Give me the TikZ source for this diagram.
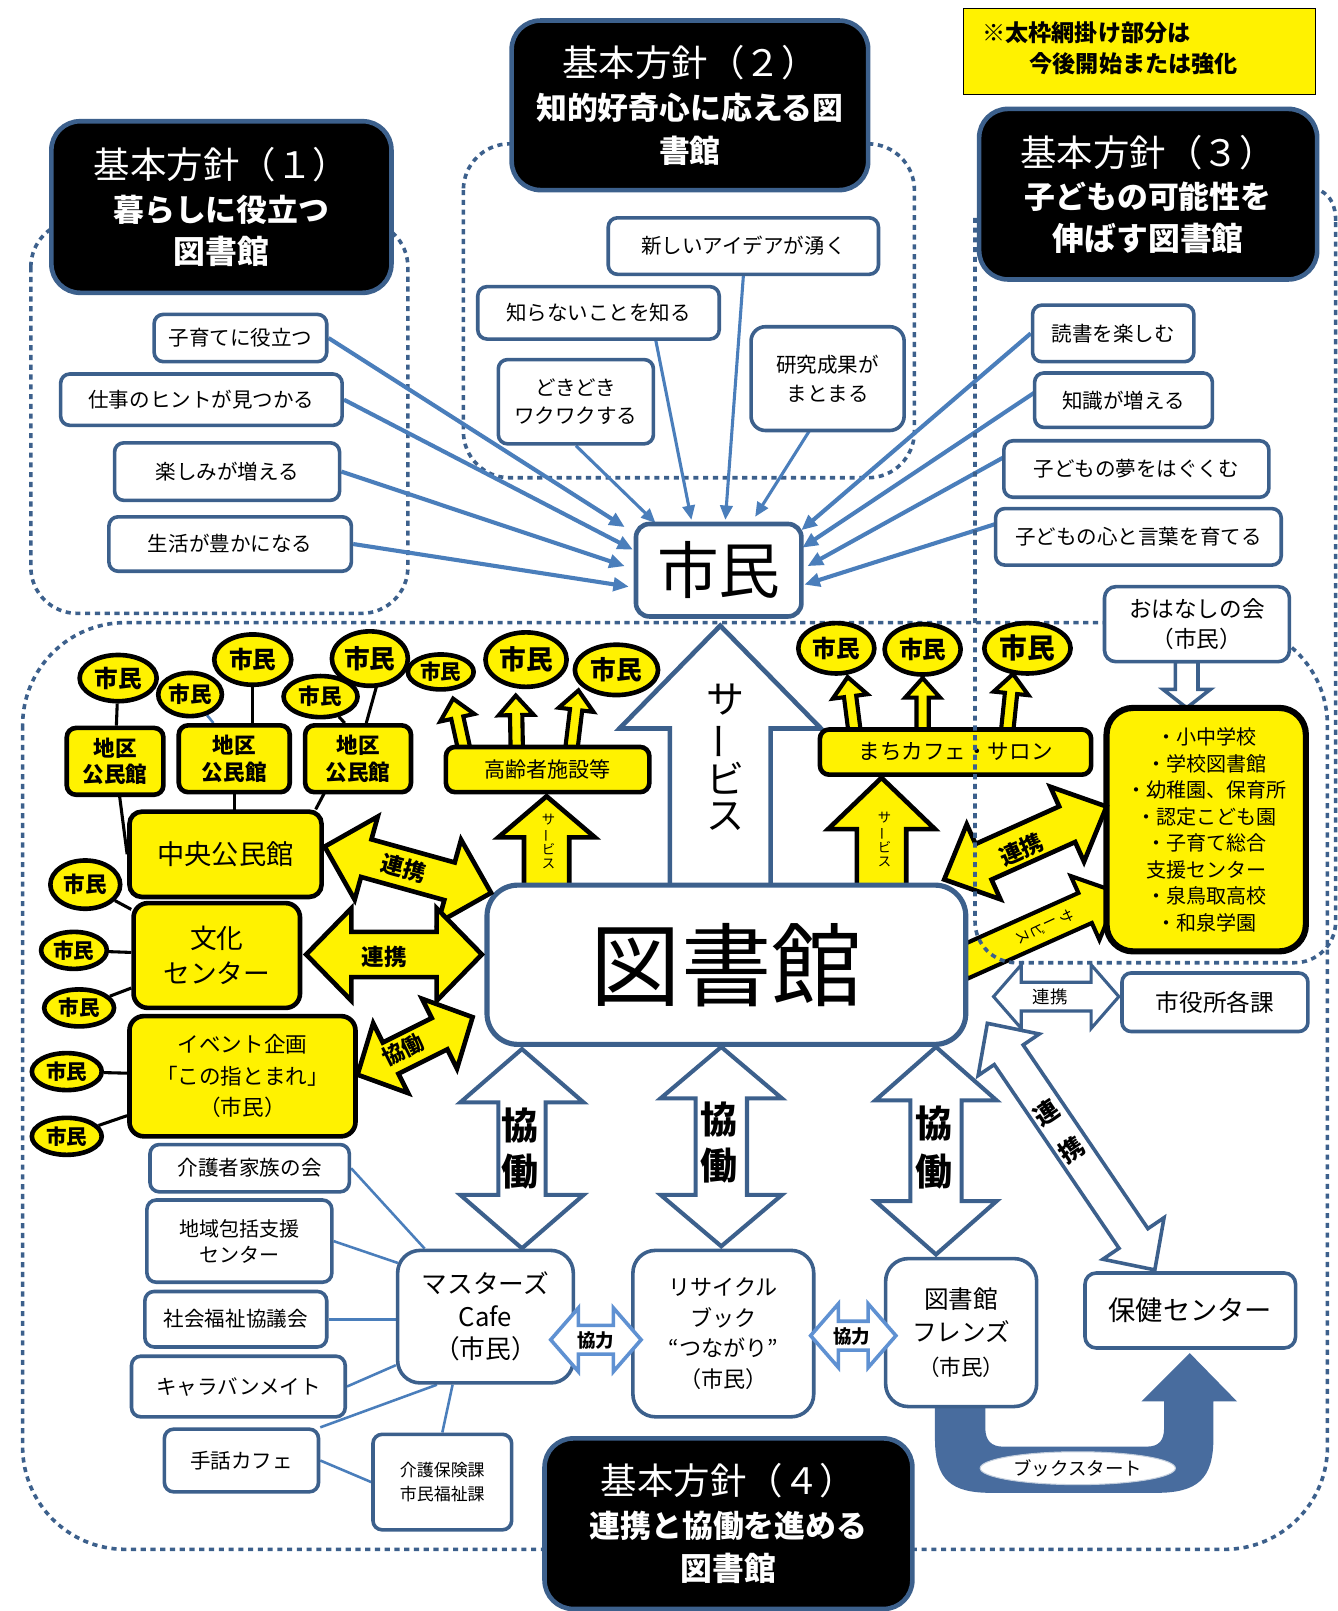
\documentclass[tikz,border=0pt]{standalone}
\usepackage{fontspec}
\setmainfont{Noto Sans CJK JP}
\usetikzlibrary{arrows.meta,shapes.geometric,calc}
\pgfdeclarelayer{bg0}\pgfdeclarelayer{bg1}\pgfdeclarelayer{top}
\pgfsetlayers{bg0,bg1,main,top}
\definecolor{bdr}{RGB}{60,96,140}
\definecolor{lnk}{RGB}{74,126,187}
\definecolor{lbl}{RGB}{95,145,210}
\definecolor{bookc}{RGB}{72,108,158}
\newcommand\fs[2]{\fontsize{#1}{#2}\selectfont}
\newcommand\vserv{サ\\\rotatebox[origin=c]{90}{ー}\\ビ\\ス}
\makeatletter
\newcommand\blockarrow[7]{%
  \pgfmathanglebetweenpoints{\pgfpointanchor{#2}{center}}{\pgfpointanchor{#3}{center}}%
  \let\ba@ang\pgfmathresult
  \pgfpointdiff{\pgfpointanchor{#2}{center}}{\pgfpointanchor{#3}{center}}%
  \pgfgetlastxy{\ba@dx}{\ba@dy}%
  \pgfmathveclen{\ba@dx}{\ba@dy}%
  \let\ba@len\pgfmathresult
  \begin{scope}[shift={(#2)},rotate=\ba@ang]
  \ifnum#7=2
    \draw[#1] (0,0) -- (#6,#5) -- (#6,#4) -- (\ba@len-#6,#4) -- (\ba@len-#6,#5) -- (\ba@len,0) -- (\ba@len-#6,-#5) -- (\ba@len-#6,-#4) -- (#6,-#4) -- (#6,-#5) -- cycle;
  \else
    \draw[#1] (0,#4) -- (\ba@len-#6,#4) -- (\ba@len-#6,#5) -- (\ba@len,0) -- (\ba@len-#6,-#5) -- (\ba@len-#6,-#4) -- (0,-#4) -- cycle;
  \fi
  \end{scope}}
\makeatother
\begin{document}
\begin{tikzpicture}[x=1pt,y=-1pt,
  pol/.style={draw=bdr,line width=4.5pt,fill=black,rounded corners=28pt,text=white,align=center,inner sep=0pt},
  wb/.style={draw=bdr,line width=3.5pt,fill=white,rounded corners=9pt,align=center,inner sep=0pt,font=\fs{20}{28}},
  yb/.style={draw=black,line width=4.5pt,fill=yellow,rounded corners=9pt,align=center,inner sep=0pt},
  ye/.style={ellipse,draw=black,line width=4.5pt,fill=yellow,inner sep=0pt},
  region/.style={draw=bdr,line width=3.5pt,dash pattern=on 5pt off 4.5pt},
  tolink/.style={draw=lnk,line width=4pt,-{Triangle[length=15pt,width=13pt]}},
  tolinkm/.style={draw=lnk,line width=3pt,-{Triangle[length=14pt,width=12pt]}},
  kl/.style={draw=black,line width=3pt},
  bl/.style={draw=lnk,line width=2.5pt},
  ya/.style={fill=yellow,draw=black,line width=4.5pt,line join=miter},
  wa/.style={fill=white,draw=bdr,line width=4pt,line join=miter},
  lw/.style={fill=white,draw=lbl,line width=3.5pt,line join=miter}
]
\useasboundingbox (0,0) rectangle (1302,1568);
\begin{pgfonlayer}{bg0}
\fill[white] (0,0) rectangle (1302,1568);
\draw[region,rounded corners=45pt] (30,215) rectangle (397,597);
\draw[region,rounded corners=45pt] (451,140) rectangle (890,465);
\draw[region,rounded corners=100pt] (22,606) rectangle (1292,1508);
\fill[bookc] (910,1360) -- (910,1400) .. controls (910,1440) and (925,1453) .. (965,1453) -- (1125,1453) .. controls (1165,1453) and (1181,1440) .. (1181,1400) -- (1181,1364) -- (1204,1364) -- (1158,1317) -- (1111,1364) -- (1133,1364) -- (1133,1390) .. controls (1133,1402) and (1128,1408) .. (1116,1408) -- (976,1408) .. controls (965,1408) and (959,1402) .. (959,1390) -- (959,1360) -- cycle;
\end{pgfonlayer}

% ---------- coordinates
\coordinate (a11) at (608,513); \coordinate (a12) at (616,535);
\coordinate (a13) at (608,551); \coordinate (a14) at (612,571);
\coordinate (a23) at (638,509); \coordinate (a22) at (673,506);
\coordinate (a21) at (706,506); \coordinate (a24) at (735,503);
\coordinate (a31) at (780,516); \coordinate (a32) at (781,533);
\coordinate (a33) at (786,551); \coordinate (a34) at (783,569);
\coordinate (c22) at (638,330); \coordinate (c24) at (788,419);
\coordinate (c32) at (1007,382); \coordinate (c33) at (977,445);
\coordinate (c34) at (969,510);
\coordinate (y1a) at (532,870); \coordinate (y1b) at (532,775);
\coordinate (y2a) at (858,870); \coordinate (y2b) at (858,757);
\coordinate (sva) at (701,870); \coordinate (svb) at (701,609);
\coordinate (y3a) at (316,824); \coordinate (y3b) at (478,869);
\coordinate (y4a) at (298,929); \coordinate (y4b) at (469,929);
\coordinate (y5a) at (348,1046); \coordinate (y5b) at (460,990);
\coordinate (y6a) at (919,856); \coordinate (y6b) at (1077,785);
\coordinate (y7a) at (935,938); \coordinate (y7b) at (1089,869);
\coordinate (s1a) at (452,730); \coordinate (s1b) at (441,680);
\coordinate (s2a) at (503,730); \coordinate (s2b) at (502,677);
\coordinate (s3a) at (556,730); \coordinate (s3b) at (563,672);
\coordinate (s4a) at (832,714); \coordinate (s4b) at (825,659);
\coordinate (s5a) at (898,714); \coordinate (s5b) at (898,660);
\coordinate (s6a) at (980,714); \coordinate (s6b) at (986,656);
\coordinate (w1a) at (967,970); \coordinate (w1b) at (1089,970);
\coordinate (w2a) at (961,996); \coordinate (w2b) at (1124,1236);
\coordinate (w3a) at (508,1021); \coordinate (w3b) at (508,1215);
\coordinate (w4a) at (702,1019); \coordinate (w4b) at (702,1213);
\coordinate (w5a) at (911,1019); \coordinate (w5b) at (911,1221);
\coordinate (w6a) at (536,1304); \coordinate (w6b) at (624,1304);
\coordinate (w7a) at (789,1300); \coordinate (w7b) at (872,1300);
\coordinate (ohd) at (1155,644); \coordinate (ohs) at (1155,689);

% ---------- policy boxes and note
\node[pol,minimum width=331pt,minimum height=167pt,font=\fs{30}{41.5}] (p1) at (215.5,201.5) {{\fs{35.5}{41.5}基本方針（１）}\\{\bfseries 暮らしに役立つ}\\{\bfseries\fs{31}{41.5}図書館}};
\node[pol,minimum width=347pt,minimum height=165pt,font=\fs{30}{41.5}] (p2) at (671.5,102.5) {{\fs{35.5}{41.5}基本方針（２）}\\{\bfseries 知的好奇心に応える図}\\{\bfseries 書館}};
\node[pol,minimum width=329pt,minimum height=166pt,font=\fs{30}{41}] (p3) at (1117.5,189) {{\fs{35.5}{41}基本方針（３）}\\{\bfseries 子どもの可能性を}\\{\bfseries\fs{31}{41}伸ばす図書館}};
\node[pol,minimum width=358pt,minimum height=166pt,font=\fs{30}{42}] (p4) at (709,1483) {{\fs{35.5}{42}基本方針（４）}\\{\bfseries 連携と協働を進める}\\{\bfseries\fs{31}{42}図書館}};
\node[draw=black,line width=1.2pt,fill=yellow,minimum width=342pt,minimum height=84pt,inner sep=0pt] (note) at (1109,50) {};
\node[anchor=west,font=\fs{22.5}{26}\bfseries,inner sep=0pt] (note1) at (956,32) {※太枠網掛け部分は};
\node[anchor=west,font=\fs{22.5}{26}\bfseries,inner sep=0pt] (note2) at (1002,62) {今後開始または強化};

% ---------- top part
\node[wb,line width=4.5pt,rounded corners=13pt,minimum width=161pt,minimum height=90pt,font=\fs{60}{60}] (shimin) at (699.5,555) {市民};
\node[wb,minimum width=168pt,minimum height=46pt] (b11) at (234,329) {子育てに役立つ};
\node[wb,minimum width=274pt,minimum height=50pt] (b12) at (196,389) {仕事のヒントが見つかる};
\node[wb,minimum width=219pt,minimum height=56pt] (b13) at (221,459) {楽しみが増える};
\node[wb,minimum width=236pt,minimum height=53pt] (b14) at (224,529.5) {生活が豊かになる};
\node[wb,minimum width=263pt,minimum height=55pt] (b21) at (723.5,239.5) {新しいアイデアが湧く};
\node[wb,minimum width=235pt,minimum height=51pt] (b22) at (582.5,304.5) {知らないことを知る};
\node[wb,minimum width=151pt,minimum height=82pt] (b23) at (560.5,391) {どきどき\\ワクワクする};
\node[wb,minimum width=149pt,minimum height=101pt,rounded corners=14pt] (b24) at (805.5,368.5) {研究成果が\\まとまる};
\node[wb,minimum width=157pt,minimum height=55pt] (b31) at (1083.5,324.5) {読書を楽しむ};
\node[wb,minimum width=173pt,minimum height=53pt] (b32) at (1093.5,389.5) {知識が増える};
\node[wb,minimum width=258pt,minimum height=55pt] (b33) at (1106,456.5) {子どもの夢をはぐくむ};
\node[wb,minimum width=278pt,minimum height=55pt] (b34) at (1108,522.5) {子どもの心と言葉を育てる};

% ---------- yellow part
\node[ye,minimum width=75pt,minimum height=45pt,font=\fs{23}{23}\bfseries] (e1) at (115,660) {市民};
\node[ye,minimum width=62pt,minimum height=42pt,font=\fs{21}{21}\bfseries] (e2) at (185,676) {市民};
\node[ye,minimum width=75pt,minimum height=49pt,font=\fs{23}{23}\bfseries] (e3) at (246,642) {市民};
\node[ye,minimum width=72pt,minimum height=40pt,font=\fs{21}{21}\bfseries] (e4) at (312,678) {市民};
\node[ye,minimum width=74pt,minimum height=53pt,font=\fs{25}{25}\bfseries] (e5) at (360,641) {市民};
\node[ye,minimum width=64pt,minimum height=34pt,font=\fs{20}{20}\bfseries] (e6) at (429,654) {市民};
\node[ye,minimum width=79pt,minimum height=53pt,font=\fs{26}{26}\bfseries] (e7) at (512,642) {市民};
\node[ye,minimum width=81pt,minimum height=49pt,font=\fs{25}{25}\bfseries] (e8) at (600,652) {市民};
\node[ye,minimum width=74pt,minimum height=49pt,font=\fs{23}{23}\bfseries] (e9) at (814,631) {市民};
\node[ye,minimum width=74pt,minimum height=49pt,font=\fs{23}{23}\bfseries] (e10) at (898,632) {市民};
\node[ye,minimum width=84pt,minimum height=49pt,font=\fs{27}{27}\bfseries] (e11) at (1000,631) {市民};
\node[ye,minimum width=68pt,minimum height=47pt,font=\fs{21}{21}\bfseries] (e12) at (83,861) {市民};
\node[ye,minimum width=64pt,minimum height=36pt,font=\fs{20}{20}\bfseries] (e13) at (72,925) {市民};
\node[ye,minimum width=68pt,minimum height=36pt,font=\fs{20}{20}\bfseries] (e14) at (77,981) {市民};
\node[ye,minimum width=68pt,minimum height=36pt,font=\fs{20}{20}\bfseries] (e15) at (65,1043) {市民};
\node[ye,minimum width=68pt,minimum height=36pt,font=\fs{20}{20}\bfseries] (e16) at (65,1106) {市民};
\node[yb,minimum width=94pt,minimum height=65pt,font=\fs{21}{26}\bfseries] (k1) at (112,741) {地区\\公民館};
\node[yb,minimum width=108pt,minimum height=65pt,font=\fs{21}{26}\bfseries] (k2) at (228,738.5) {地区\\公民館};
\node[yb,minimum width=103pt,minimum height=65pt,font=\fs{21}{26}\bfseries] (k3) at (348.5,738.5) {地区\\公民館};
\node[yb,minimum width=187pt,minimum height=83pt,font=\fs{26.5}{30},rounded corners=12pt] (cc) at (219.5,831.5) {中央公民館};
\node[yb,minimum width=162pt,minimum height=102pt,font=\fs{26}{34},rounded corners=14pt] (bunka) at (211,930) {文化\\センター};
\node[yb,minimum width=220pt,minimum height=117pt,font=\fs{21}{30.5},rounded corners=14pt] (ev) at (236,1047.5) {イベント企画\\「この指とまれ」\\（市民）};
\node[yb,minimum width=198pt,minimum height=44pt,font=\fs{20.5}{24}] (kr) at (533,749) {高齢者施設等};
\node[yb,minimum width=264pt,minimum height=44pt,font=\fs{21}{24}] (mc) at (930,732) {まちカフェ・サロン};
\node[yb,line width=6pt,rounded corners=26pt,minimum width=194pt,minimum height=237pt,font=\fs{19.5}{25.8}] (sch) at (1174,807.5) {・小中学校\\・学校図書館\\・幼稚園、保育所\\・認定こども園\\・子育て総合\\支援センター\\・泉鳥取高校\\・和泉学園};
\node[wb,minimum width=180pt,minimum height=73pt,font=\fs{22}{29},rounded corners=11pt] (oh) at (1165,607.5) {おはなしの会\\（市民）};

% ---------- library and bottom
\node[wb,line width=5pt,rounded corners=30pt,minimum width=466pt,minimum height=155pt,font=\fs{88}{88}] (lib) at (707,939) {図書館};
\node[wb,minimum width=181pt,minimum height=57pt,font=\fs{23}{26}] (city) at (1182.5,975.5) {市役所各課};
\node[wb,minimum width=205pt,minimum height=73pt,font=\fs{26.5}{30},rounded corners=11pt] (hoken) at (1158.5,1275.5) {保健センター};
\node[wb,minimum width=171pt,minimum height=129pt,rounded corners=22pt,font=\fs{25}{31.5}] (ms) at (472.5,1281.5) {マスターズ\\Cafe\\（市民）};
\node[wb,minimum width=176pt,minimum height=162pt,rounded corners=22pt,font=\fs{21.5}{30}] (rb) at (704,1298) {リサイクル\\ブック\\“つながり”\\（市民）};
\node[wb,minimum width=147pt,minimum height=144pt,rounded corners=22pt,font=\fs{24}{32.5}] (fr) at (935.5,1297) {図書館\\フレンズ\\{\fs{21}{32.5}（市民）}};
\node[wb,minimum width=194pt,minimum height=46pt] (kz) at (243,1137) {介護者家族の会};
\node[wb,minimum width=180pt,minimum height=80pt,font=\fs{19.5}{25}] (cs) at (233,1208) {地域包括支援\\センター};
\node[wb,minimum width=177pt,minimum height=54pt] (sf) at (229.5,1284) {社会福祉協議会};
\node[wb,minimum width=208pt,minimum height=59pt] (cv) at (232,1349.5) {キャラバンメイト};
\node[wb,minimum width=150pt,minimum height=61pt] (sw) at (235,1421.5) {手話カフェ};
\node[wb,minimum width=135pt,minimum height=93pt,font=\fs{16.5}{23}] (kh) at (430.5,1442.5) {介護保険課\\市民福祉課};
\node[ellipse,draw=bdr!30,line width=1pt,fill=white,minimum width=190pt,minimum height=32pt,inner sep=0pt,font=\fs{18}{20}] (bs) at (1049,1429) {ブックスタート};

% ---------- connectors below nodes
\begin{pgfonlayer}{bg1}
\draw[tolink] (b11.east) -- (a11);
\draw[tolink] (b12.east) -- (a12);
\draw[tolink] (b13.east) -- (a13);
\draw[tolink] (b14.east) -- (a14);
\draw[tolinkm] (b23.south) -- (a23);
\draw[tolinkm] (c22) -- (a22);
\draw[tolinkm] (b21.south) -- (a21);
\draw[tolinkm] (c24) -- (a24);
\draw[tolink] (b31.west) -- (a31);
\draw[tolink] (c32) -- (a32);
\draw[tolink] (c33) -- (a33);
\draw[tolink] (c34) -- (a34);
\draw[kl] (e1) -- (k1);
\draw[bl] (e2) -- ($(k2.north west)+(36,0)$);
\draw[kl] (e3) -- (e3 |- k2.center);
\draw[kl] (e4) -- ($(k3.north)+(-13,0)$);
\draw[kl] ($(e5)+(14,0)$) -- ($(k3.north)+(8,0)$);
\draw[kl] (k1) -- (cc.west);
\draw[kl] (k2) -- (k2 |- cc.center);
\draw[kl] ($(k3)+(-15,0)$) -- ($(cc.north east)+(-8,0)$);
\draw[kl] (e12) -- (bunka);
\draw[kl] (e13) -- (bunka);
\draw[kl] (e14) -- (bunka);
\draw[kl] (e15) -- (ev);
\draw[kl] (e16) -- (ev);
\draw[bl] (kz.east) -- ($(ms.north west)+(28,0)$);
\draw[bl] (cs.east) -- ($(ms.north west)+(2,14)$);
\draw[bl] (sf.east) -- (sf.east -| ms.west);
\draw[bl] (cv.east) -- ($(ms.south west)+(0,-19)$);
\draw[bl] (sw.north east) -- ($(ms.south west)+(40,0)$);
\draw[bl] (kh.north) -- ($(ms.south)+(-32,0)$);
\draw[bl] (sw.east) -- (kh.west);
\blockarrow{wa,line width=4.5pt}{sva}{svb}{49}{98}{100}{1}
\blockarrow{ya}{y1a}{y1b}{22}{47}{40}{1}
\blockarrow{ya}{y2a}{y2b}{24}{52}{50}{1}
\blockarrow{ya,line width=4pt}{s1a}{s1b}{6}{17}{19}{1}
\blockarrow{ya,line width=4pt}{s2a}{s2b}{6}{17}{19}{1}
\blockarrow{ya,line width=4pt}{s3a}{s3b}{6}{17}{19}{1}
\blockarrow{ya,line width=4pt}{s4a}{s4b}{6}{17}{19}{1}
\blockarrow{ya,line width=4pt}{s5a}{s5b}{6}{17}{19}{1}
\blockarrow{ya,line width=4pt}{s6a}{s6b}{6}{17}{19}{1}
\blockarrow{ya,line width=4pt}{y7a}{y7b}{16}{34}{36}{1}
\blockarrow{wa,line width=3.5pt}{ohd}{ohs}{11}{23}{18}{1}
\blockarrow{wa}{w3a}{w3b}{23}{60}{52}{2}
\blockarrow{wa}{w4a}{w4b}{25}{59}{50}{2}
\blockarrow{wa}{w5a}{w5b}{25}{59}{52}{2}
\blockarrow{wa,line width=3.5pt}{w2a}{w2b}{17}{36}{37}{2}
\blockarrow{wa,line width=3pt}{w1a}{w1b}{14}{31}{27}{2}
\end{pgfonlayer}

% ---------- on top
\begin{pgfonlayer}{top}
\blockarrow{ya}{y3a}{y3b}{19}{42}{42}{2}
\blockarrow{ya}{y4a}{y4b}{22}{45}{44}{2}
\blockarrow{ya}{y5a}{y5b}{17}{38}{36}{2}
\blockarrow{ya}{y6a}{y6b}{19}{40}{42}{2}
\blockarrow{lw}{w6a}{w6b}{14}{31}{27}{2}
\blockarrow{lw}{w7a}{w7b}{14}{31}{27}{2}
\draw[region,rounded corners=40pt] (949,212) -- (949,937) -- (1300,937) -- (1300,215);
\draw[region] (1300,215) .. controls (1300,200) and (1295,191) .. (1286,186);
\node[rotate=-15.5,font=\fs{22}{22}\bfseries] (t1) at (393,845) {連携};
\node[font=\fs{22}{22}\bfseries] (t2) at (374,931) {連携};
\node[rotate=26.6,font=\fs{21}{21}\bfseries] (t3) at (392,1022) {協働};
\node[rotate=24,font=\fs{22}{22}\bfseries] (t4) at (994,827) {連携};
\node[rotate=-65,font=\fs{14}{15},align=center] (t5) at (1017,902) {\vserv};
\node[font=\fs{13}{14},align=center] (t6) at (534,819) {\vserv};
\node[font=\fs{13}{14},align=center] (t7) at (861,817) {\vserv};
\node[font=\fs{37}{35},align=center] (t8) at (706,737) {\vserv};
\node[font=\fs{36}{45}\bfseries,align=center] (t9) at (506,1118) {協\\働};
\node[font=\fs{36}{45}\bfseries,align=center] (t10) at (700,1112) {協\\働};
\node[font=\fs{36}{47}\bfseries,align=center] (t11) at (909,1117) {協\\働};
\node[font=\fs{17}{17}] (t12) at (1022,970) {連携};
\node[rotate=34,font=\fs{24}{44}\bfseries,align=center] (t13) at (1031,1101) {連\\携};
\node[font=\fs{18}{18}\bfseries] (t14) at (580,1305) {協力};
\node[font=\fs{18}{18}\bfseries] (t15) at (829,1301) {協力};
\end{pgfonlayer}
\end{tikzpicture}
\end{document}
